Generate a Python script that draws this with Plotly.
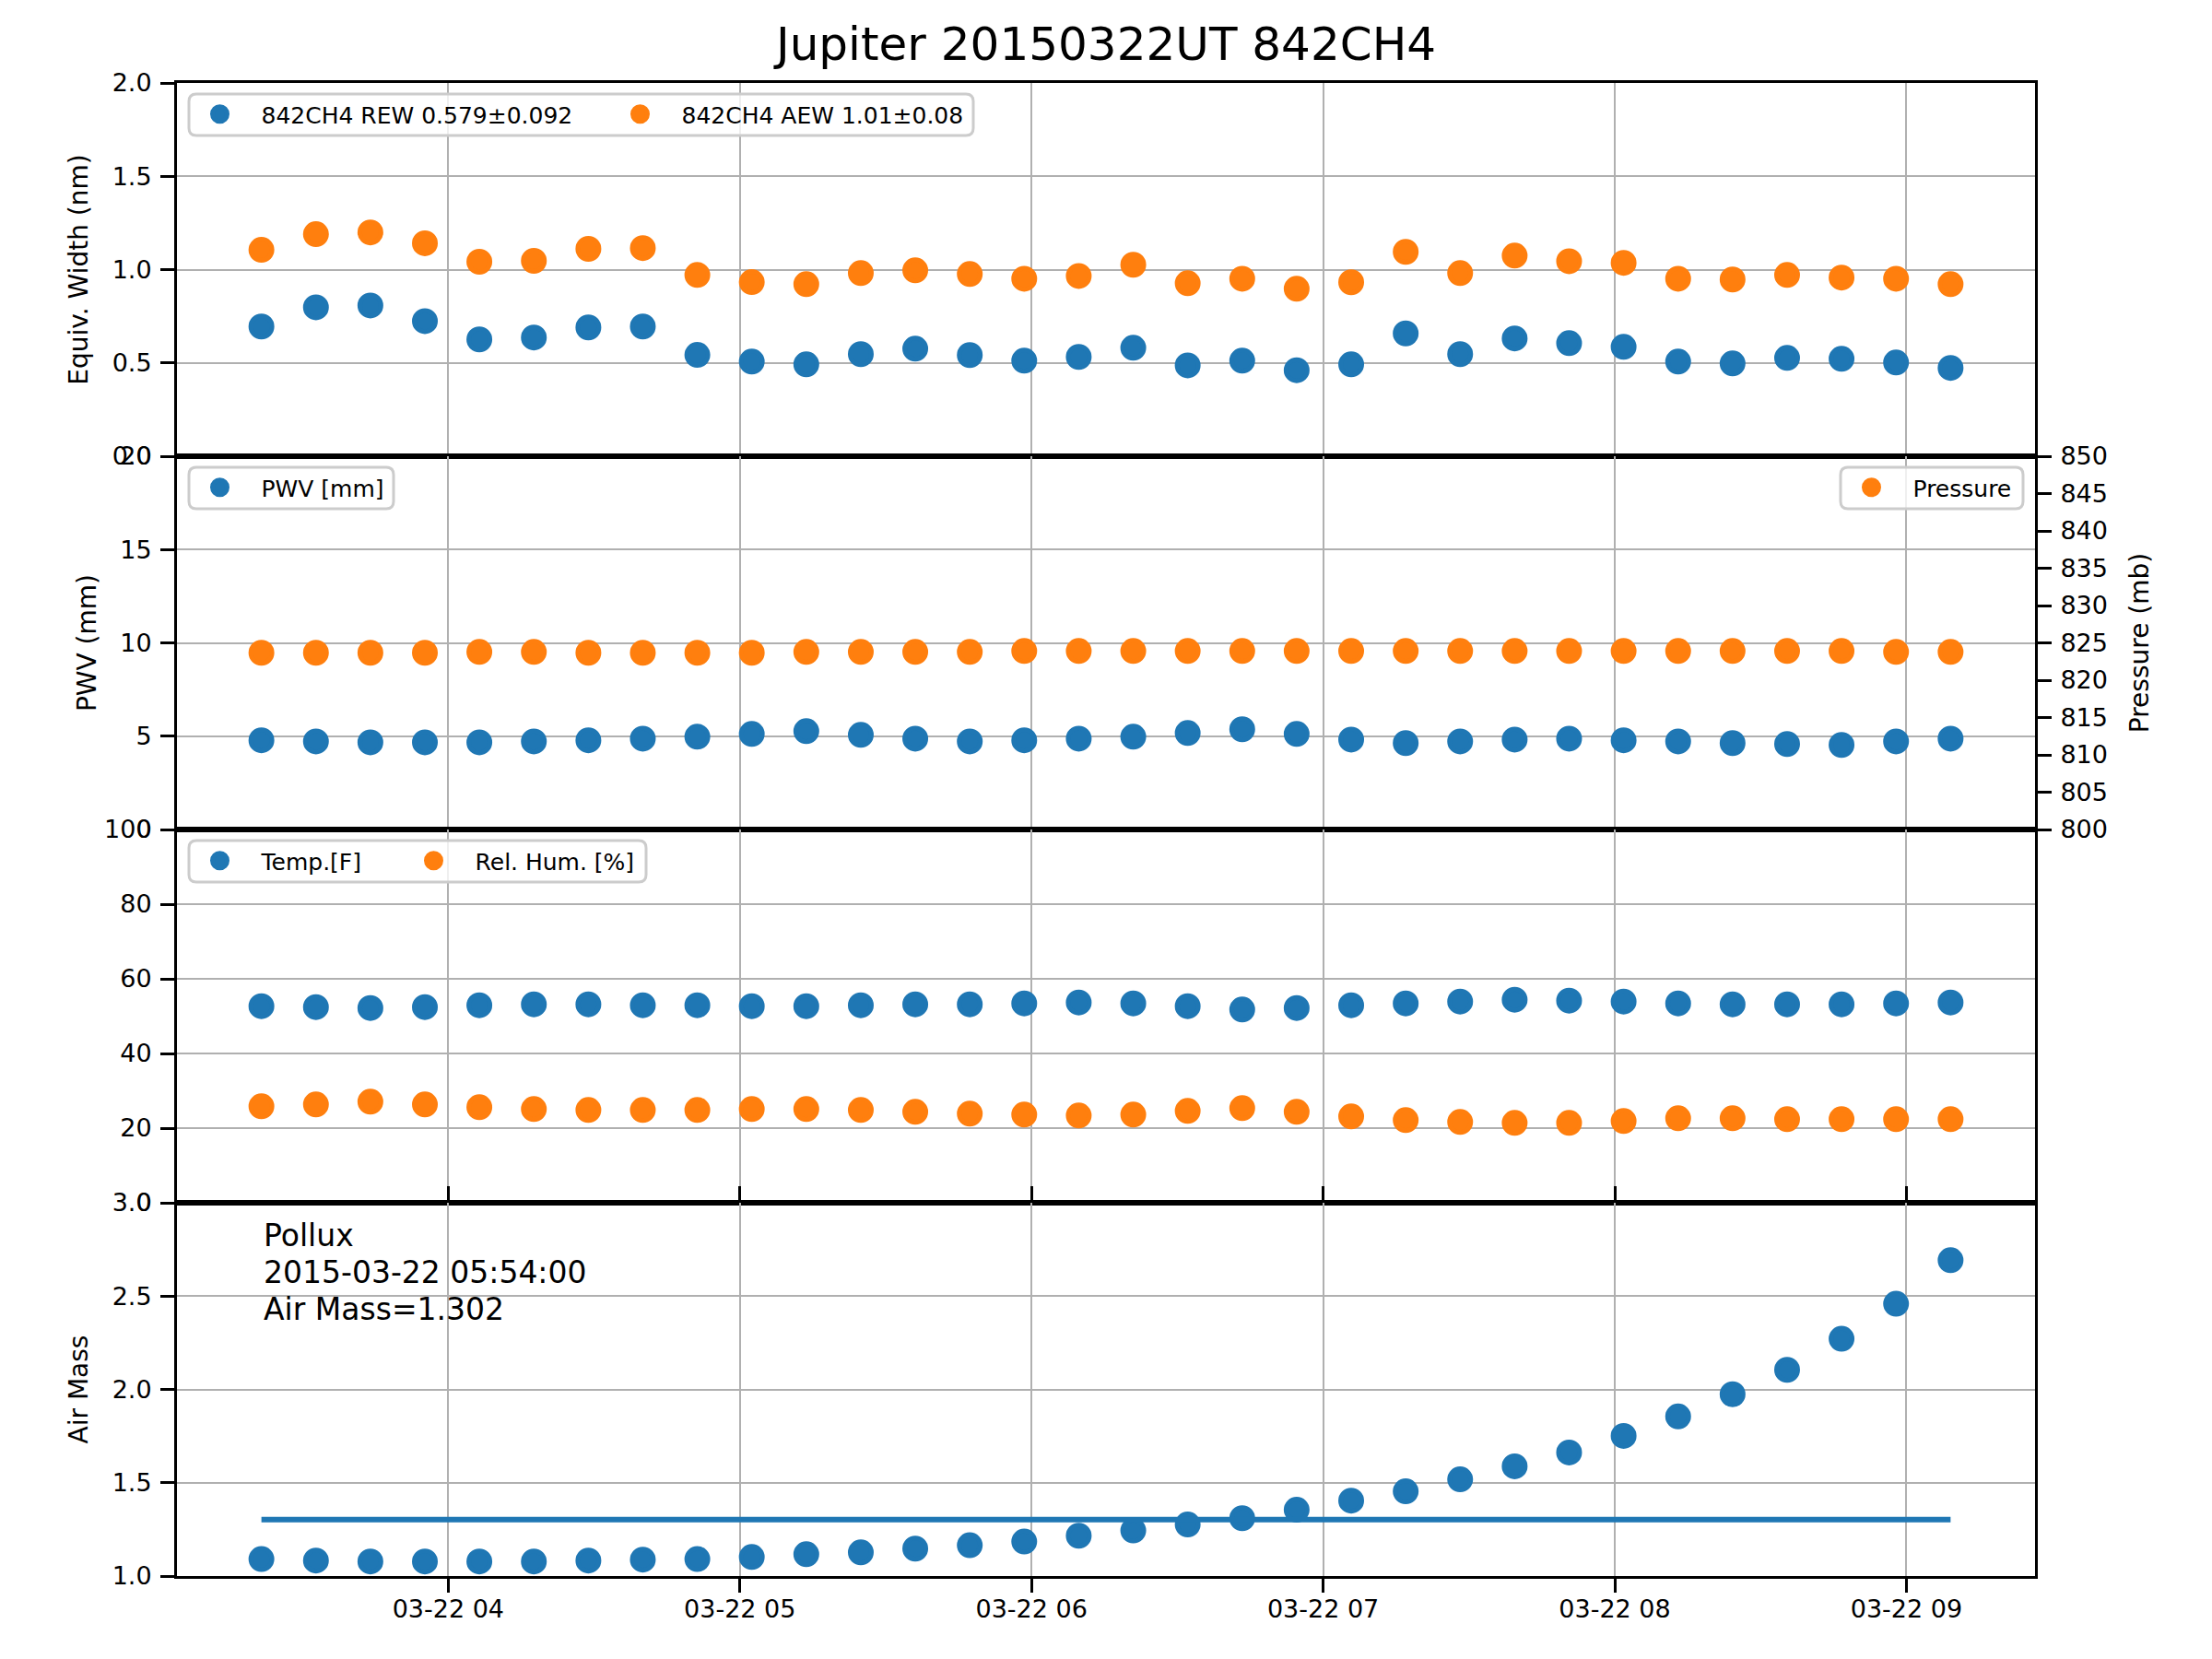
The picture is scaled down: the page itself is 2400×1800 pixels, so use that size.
import plotly.graph_objects as go
import pandas as pd

# ---------------- data ----------------
obs_date = "2015-03-22"
times = ["03:21:34", "03:32:47", "03:43:59", "03:55:12", "04:06:24", "04:17:37",
         "04:28:50", "04:40:02", "04:51:15", "05:02:27", "05:13:40", "05:24:53",
         "05:36:05", "05:47:18", "05:58:30", "06:09:43", "06:20:56", "06:32:08",
         "06:43:21", "06:54:33", "07:05:46", "07:16:59", "07:28:11", "07:39:24",
         "07:50:36", "08:01:49", "08:13:02", "08:24:14", "08:35:27", "08:46:39",
         "08:57:52", "09:09:05"]

rew = [0.695, 0.798, 0.808, 0.724, 0.626, 0.636, 0.690, 0.695, 0.543, 0.507, 0.492,
       0.547, 0.576, 0.542, 0.512, 0.532, 0.581, 0.487, 0.512, 0.461, 0.492, 0.658,
       0.547, 0.631, 0.606, 0.586, 0.507, 0.497, 0.527, 0.522, 0.502, 0.473]
aew = [1.106, 1.190, 1.199, 1.141, 1.042, 1.047, 1.111, 1.115, 0.971, 0.933, 0.922,
       0.981, 0.996, 0.976, 0.951, 0.966, 1.026, 0.927, 0.951, 0.897, 0.932, 1.095,
       0.981, 1.075, 1.045, 1.036, 0.951, 0.947, 0.971, 0.957, 0.951, 0.922]
pwv = [4.78, 4.72, 4.67, 4.67, 4.67, 4.72, 4.78, 4.87, 4.97, 5.12, 5.27, 5.07, 4.87,
       4.72, 4.78, 4.87, 4.97, 5.17, 5.37, 5.12, 4.82, 4.63, 4.72, 4.82, 4.87, 4.78,
       4.72, 4.63, 4.58, 4.53, 4.72, 4.87]
pressure = [823.67, 823.67, 823.67, 823.67, 823.79, 823.79, 823.67, 823.67, 823.67,
            823.67, 823.79, 823.79, 823.79, 823.79, 823.91, 823.91, 823.91, 823.91,
            823.91, 823.91, 823.91, 823.91, 823.91, 823.91, 823.91, 823.91, 823.91,
            823.91, 823.91, 823.91, 823.79, 823.79]
temp_f = [52.67, 52.42, 52.17, 52.42, 52.92, 53.16, 53.16, 52.92, 52.92, 52.67, 52.67,
          52.92, 53.16, 53.16, 53.41, 53.66, 53.41, 52.67, 51.77, 52.17, 52.92, 53.41,
          53.91, 54.40, 54.16, 53.91, 53.41, 53.16, 53.16, 53.16, 53.41, 53.66]
rel_hum = [25.84, 26.34, 27.08, 26.34, 25.60, 25.10, 24.86, 24.86, 24.86, 25.10, 25.10,
           24.86, 24.37, 23.87, 23.62, 23.38, 23.62, 24.61, 25.35, 24.37, 23.13, 22.14,
           21.65, 21.40, 21.40, 21.89, 22.63, 22.63, 22.39, 22.39, 22.39, 22.39]
airmass = [1.091, 1.083, 1.078, 1.078, 1.078, 1.078, 1.083, 1.088, 1.091, 1.102, 1.117,
           1.127, 1.147, 1.165, 1.185, 1.216, 1.244, 1.276, 1.310, 1.355, 1.404, 1.454,
           1.518, 1.588, 1.662, 1.751, 1.855, 1.974, 2.105, 2.271, 2.459, 2.692]

ref_star = "Pollux"
ref_time = "2015-03-22 05:54:00"
ref_airmass = 1.302

rew_label = "842CH4 REW 0.579\u00b10.092"
aew_label = "842CH4 AEW 1.01\u00b10.08"
title_text = "Jupiter 20150322UT 842CH4"

ew_ticks = [0.0, 0.5, 1.0, 1.5, 2.0]
pwv_ticks = [0, 5, 10, 15, 20]
met_ticks = [0, 20, 40, 60, 80, 100]
am_ticks = [1.0, 1.5, 2.0, 2.5, 3.0]
p_ticks = [800, 805, 810, 815, 820, 825, 830, 835, 840, 845, 850]

# ---------------- styling ----------------
BLUE = "#1f77b4"
ORANGE = "#ff7f0e"
GRID = "#b0b0b0"
FONT = "DejaVu Sans"
PAGE_OFF = 8                      # browser body margin
W, H = 2400 - 2 * PAGE_OFF, 1800 - 2 * PAGE_OFF
ML, MR, MT, MB = 184, 184, 82, 82
PLOT_L, PLOT_T = PAGE_OFF + ML, PAGE_OFF + MT
PLOT_W, PLOT_H = W - ML - MR, H - MT - MB
TICK_SIZE = 27
LEG_SIZE = 25
LEG_ITEMW = 80
LEG_MARK_OFF = 3 + 1.5 + 5 + LEG_ITEMW / 2   # legend left edge -> symbol centre

t = pd.to_datetime([obs_date + " " + s for s in times])
span = t.max() - t.min()
xrange_ = [t.min() - 0.05 * span, t.max() + 0.05 * span]


def px2x(px):
    return (px - PLOT_L) / PLOT_W


def py2y(py):
    return (PLOT_T + PLOT_H - py) / PLOT_H


def mk(color):
    return dict(color=color, size=23, line=dict(color=color, width=5))


fig = go.Figure()
fig.add_trace(go.Scatter(x=t, y=rew, mode="markers", marker=mk(BLUE), name=rew_label,
                         xaxis="x", yaxis="y", legend="legend"))
fig.add_trace(go.Scatter(x=t, y=aew, mode="markers", marker=mk(ORANGE), name=aew_label,
                         xaxis="x", yaxis="y", legend="legend5"))
fig.add_trace(go.Scatter(x=t, y=pwv, mode="markers", marker=mk(BLUE), name="PWV [mm]",
                         xaxis="x", yaxis="y2", legend="legend2"))
fig.add_trace(go.Scatter(x=t, y=pressure, mode="markers", marker=mk(ORANGE), name="Pressure",
                         xaxis="x", yaxis="y5", legend="legend3"))
fig.add_trace(go.Scatter(x=t, y=temp_f, mode="markers", marker=mk(BLUE), name="Temp.[F]",
                         xaxis="x", yaxis="y3", legend="legend4"))
fig.add_trace(go.Scatter(x=t, y=rel_hum, mode="markers", marker=mk(ORANGE), name="Rel. Hum. [%]",
                         xaxis="x", yaxis="y3", legend="legend6"))
fig.add_trace(go.Scatter(x=t, y=airmass, mode="markers", marker=mk(BLUE), showlegend=False,
                         xaxis="x", yaxis="y4"))
fig.add_trace(go.Scatter(x=[t.min(), t.max()], y=[ref_airmass, ref_airmass], mode="lines",
                         line=dict(color=BLUE, width=6), showlegend=False,
                         xaxis="x", yaxis="y4"))

axis_common = dict(
    showline=True, linecolor="black", linewidth=3,
    showgrid=True, gridcolor=GRID, gridwidth=2, zeroline=False,
    ticks="outside", ticklen=15, tickwidth=3, tickcolor="black",
    tickfont=dict(size=TICK_SIZE, color="black", family=FONT),
    ticklabelstandoff=4,
)


def yax(domain, rng, tv, fmt, title=None):
    d = dict(axis_common)
    d.update(domain=domain, range=rng, tickmode="array", tickvals=tv,
             ticktext=[fmt.format(v) for v in tv], anchor="x", mirror=True)
    if title:
        d["title"] = dict(text=title, font=dict(size=28, color="black", family=FONT), standoff=18)
    return d


xa = dict(axis_common)
xa.update(range=xrange_, anchor="y4", mirror="all", tickformat="%m-%d %H",
          dtick=3600000, tick0=obs_date + " 00:00:00", ticklabelstandoff=-5)

# legend entries (frames drawn separately as shapes so entries can sit where the reference has them)
leg_common = dict(orientation="h", bgcolor="rgba(0,0,0,0)", bordercolor="rgba(0,0,0,0)",
                  borderwidth=3, itemwidth=LEG_ITEMW, xanchor="left", yanchor="middle",
                  font=dict(size=LEG_SIZE, color="black", family=FONT))


def leg(marker_px, center_py):
    return dict(leg_common, x=px2x(marker_px - LEG_MARK_OFF), y=py2y(center_py))


# legend frames: (left, top, right, bottom) in page pixels
frames = [(205, 102, 1056, 147), (205, 507, 427, 552), (1997, 507, 2195, 552),
          (205, 912, 701, 957)]


def rounded_rect(x0p, y0p, x1p, y1p, r=8):
    x0, x1 = px2x(x0p), px2x(x1p)
    y0, y1 = py2y(y0p), py2y(y1p)          # y0 top, y1 bottom (paper, y up)
    rx, ry = r / PLOT_W, r / PLOT_H
    return (f"M {x0 + rx},{y0} L {x1 - rx},{y0} Q {x1},{y0} {x1},{y0 - ry} "
            f"L {x1},{y1 + ry} Q {x1},{y1} {x1 - rx},{y1} L {x0 + rx},{y1} "
            f"Q {x0},{y1} {x0},{y1 + ry} L {x0},{y0 - ry} Q {x0},{y0} {x0 + rx},{y0} Z")


shapes = [dict(type="path", xref="paper", yref="paper", path=rounded_rect(*f),
               line=dict(color="#cccccc", width=3), fillcolor="rgba(255,255,255,0.8)",
               layer="above") for f in frames]

fig.update_layout(
    width=W, height=H,
    margin=dict(l=ML, r=MR, t=MT, b=MB),
    paper_bgcolor="white", plot_bgcolor="white",
    font=dict(family=FONT, color="black"),
    title=dict(text=title_text, xref="paper", x=0.5, xanchor="center",
               y=1 - (47 - PAGE_OFF) / H, yanchor="middle",
               font=dict(size=50, color="black", family=FONT)),
    xaxis=xa,
    yaxis=yax([0.75, 1.0], [0, 2], ew_ticks, "{:.1f}", "Equiv. Width (nm)"),
    yaxis2=yax([0.5, 0.75], [0, 20], pwv_ticks, "{:d}", "PWV (mm)"),
    yaxis3=yax([0.25, 0.5], [0, 100], met_ticks, "{:d}"),
    yaxis4=yax([0.0, 0.25], [1, 3], am_ticks, "{:.1f}", "Air Mass"),
    yaxis5=dict(overlaying="y2", side="right", anchor="x", range=[800, 850],
                tickmode="array", tickvals=p_ticks, showgrid=False, zeroline=False,
                showline=True, linecolor="black", linewidth=3,
                ticks="outside", ticklen=15, tickwidth=3, tickcolor="black",
                tickfont=dict(size=TICK_SIZE, color="black", family=FONT), ticklabelstandoff=4,
                title=dict(text="Pressure (mb)", font=dict(size=28, color="black", family=FONT),
                           standoff=26)),
    legend=leg(240, 124),
    legend5=leg(696, 124),
    legend2=leg(240, 529),
    legend3=leg(2032, 529),
    legend4=leg(240, 934),
    legend6=leg(472, 934),
    shapes=shapes,
    showlegend=True,
)

for i, txt in enumerate([ref_star, ref_time, "Air Mass={:.3f}".format(ref_airmass)]):
    fig.add_annotation(text=txt, xref="paper", yref="paper", x=px2x(284), y=py2y(1340 + 40 * i),
                       xanchor="left", yanchor="middle", showarrow=False,
                       font=dict(size=33, color="black", family=FONT))

fig.write_html("out.html")
